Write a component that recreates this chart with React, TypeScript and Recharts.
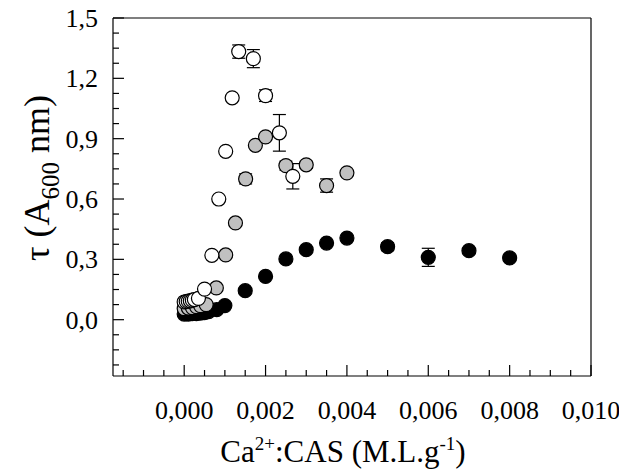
import React from 'react';
import { ScatterChart, Scatter, XAxis, YAxis, ErrorBar, ReferenceLine } from 'recharts';

// open circles
const openX = [0, 0.00005, 0.0001, 0.00015, 0.0002, 0.00025, 0.00035, 0.0005, 0.00068, 0.00085, 0.00102, 0.00118, 0.00134, 0.0017, 0.002, 0.00234, 0.00267];
const openY = [0.088, 0.09, 0.092, 0.094, 0.097, 0.1, 0.106, 0.152, 0.32, 0.6, 0.837, 1.103, 1.333, 1.298, 1.114, 0.929, 0.713];
const openErr = [0, 0, 0, 0, 0, 0, 0, 0, 0, 0, 0, 0, 0.033, 0.045, 0.029, 0.091, 0.063];

// grey circles
const greyX = [0, 0.0001, 0.0002, 0.0003, 0.0004, 0.00054, 0.00079, 0.00102, 0.00126, 0.00151, 0.00175, 0.002, 0.0025, 0.003, 0.0035, 0.004];
const greyY = [0.055, 0.058, 0.06, 0.065, 0.07, 0.075, 0.158, 0.322, 0.481, 0.7, 0.867, 0.909, 0.766, 0.77, 0.667, 0.73];
const greyErr = [0, 0, 0, 0, 0, 0, 0, 0.012, 0, 0.025, 0, 0, 0.022, 0.018, 0.033, 0];

// black circles
const blackX = [0, 0.0001, 0.0002, 0.0003, 0.0004, 0.0005, 0.0006, 0.0008, 0.001, 0.0015, 0.002, 0.0025, 0.003, 0.0035, 0.004, 0.005, 0.006, 0.007, 0.008];
const blackY = [0.028, 0.028, 0.03, 0.03, 0.033, 0.035, 0.04, 0.05, 0.07, 0.144, 0.215, 0.302, 0.348, 0.381, 0.406, 0.363, 0.31, 0.343, 0.307];
const blackErr = [0, 0, 0, 0, 0, 0, 0, 0, 0, 0, 0, 0, 0, 0, 0, 0.02, 0.045, 0.012, 0];

const xTicks = Array.from({ length: 24 }, (_, i) => (i - 3) * 0.0005);
const yTicks = Array.from({ length: 24 }, (_, i) => (i - 3) * 0.075);

const FONT = "'Liberation Serif', 'Times New Roman', serif";
const serif = { fontFamily: FONT };
const tickText = { fontFamily: FONT, fontSize: 26 };

const toRows = (xs: number[], ys: number[], errs: number[]) =>
  xs.map((x, i) => ({ x, y: ys[i], err: errs[i] }));

const openData = toRows(openX, openY, openErr);
const greyData = toRows(greyX, greyY, greyErr);
const blackData = toRows(blackX, blackY, blackErr);

const dot = (fill: string) => (props: any) => (
  <circle cx={props.cx} cy={props.cy} r={7} fill={fill} stroke="#000" strokeWidth={1.2} />
);

const renderXTick = (props: any) => {
  const { x, y, payload } = props;
  const k = Math.round(payload.value / 0.0005);
  const major = k % 4 === 0;
  return (
    <g key={`xt-${k}`}>
      <line x1={x} x2={x} y1={y} y2={y - (major ? 11 : 6)} stroke="#000" strokeWidth={1.2} />
      {major && k >= 0 && (
        <text x={x} y={y + 43} textAnchor="middle" style={tickText} fill="#000">
          {(k * 0.0005).toFixed(3).replace('.', ',')}
        </text>
      )}
    </g>
  );
};

const renderYTick = (props: any) => {
  const { x, y, payload } = props;
  const k = Math.round(payload.value / 0.075);
  const major = k % 4 === 0;
  return (
    <g key={`yt-${k}`}>
      <line x1={x} x2={x + (major ? 11 : 6)} y1={y} y2={y} stroke="#000" strokeWidth={1.2} />
      {major && k >= 0 && (
        <text x={x - 15} y={y + 9} textAnchor="end" style={tickText} fill="#000">
          {(k * 0.075).toFixed(1).replace('.', ',')}
        </text>
      )}
    </g>
  );
};

const App = () => (
  <div style={{ position: 'absolute', left: 0, top: 0, background: '#fff' }}>
    <ScatterChart width={619} height={476} margin={{ top: 18, right: 28, bottom: 0, left: 0 }}>
      <XAxis
        type="number"
        dataKey="x"
        domain={[-0.00175, 0.01]}
        ticks={xTicks}
        interval={0}
        tickSize={0}
        tickMargin={0}
        tickLine={false}
        tick={renderXTick}
        height={100}
        axisLine={{ stroke: '#000', strokeWidth: 1.2 }}
        allowDataOverflow
        label={{
          content: () => (
            <text x={343} y={462} textAnchor="middle" style={serif} fontSize={31} fill="#000">
              Ca<tspan dy={-12} fontSize={19}>2+</tspan>
              <tspan dy={12}>:CAS (M.L.g</tspan>
              <tspan dy={-12} fontSize={19}>-1</tspan>
              <tspan dy={12}>)</tspan>
            </text>
          ),
        }}
      />
      <YAxis
        type="number"
        dataKey="y"
        domain={[-0.28, 1.5]}
        ticks={yTicks}
        interval={0}
        tickSize={0}
        tickMargin={0}
        tickLine={false}
        tick={renderYTick}
        width={113}
        axisLine={{ stroke: '#000', strokeWidth: 1.2 }}
        allowDataOverflow
        label={{
          content: () => (
            <text
              x={0}
              y={0}
              transform="translate(49, 178) rotate(-90)"
              textAnchor="middle"
              style={serif}
              fontSize={36}
              fill="#000"
            >
              τ (A<tspan dy={10} fontSize={25}>600</tspan>
              <tspan dy={-10}> nm)</tspan>
            </text>
          ),
        }}
      />
      <ReferenceLine y={1.5} stroke="#000" strokeWidth={1.2} />
      <ReferenceLine x={0.01} stroke="#000" strokeWidth={1.2} />
      <Scatter data={blackData} isAnimationActive={false} shape={dot('#000')}>
        <ErrorBar dataKey="err" direction="y" width={6.5} stroke="#000" strokeWidth={1.2} />
      </Scatter>
      <Scatter data={greyData} isAnimationActive={false} shape={dot('#c0c0c0')}>
        <ErrorBar dataKey="err" direction="y" width={6.5} stroke="#000" strokeWidth={1.2} />
      </Scatter>
      <Scatter data={openData} isAnimationActive={false} shape={dot('#fff')}>
        <ErrorBar dataKey="err" direction="y" width={6.5} stroke="#000" strokeWidth={1.2} />
      </Scatter>
    </ScatterChart>
  </div>
);

export default App;
